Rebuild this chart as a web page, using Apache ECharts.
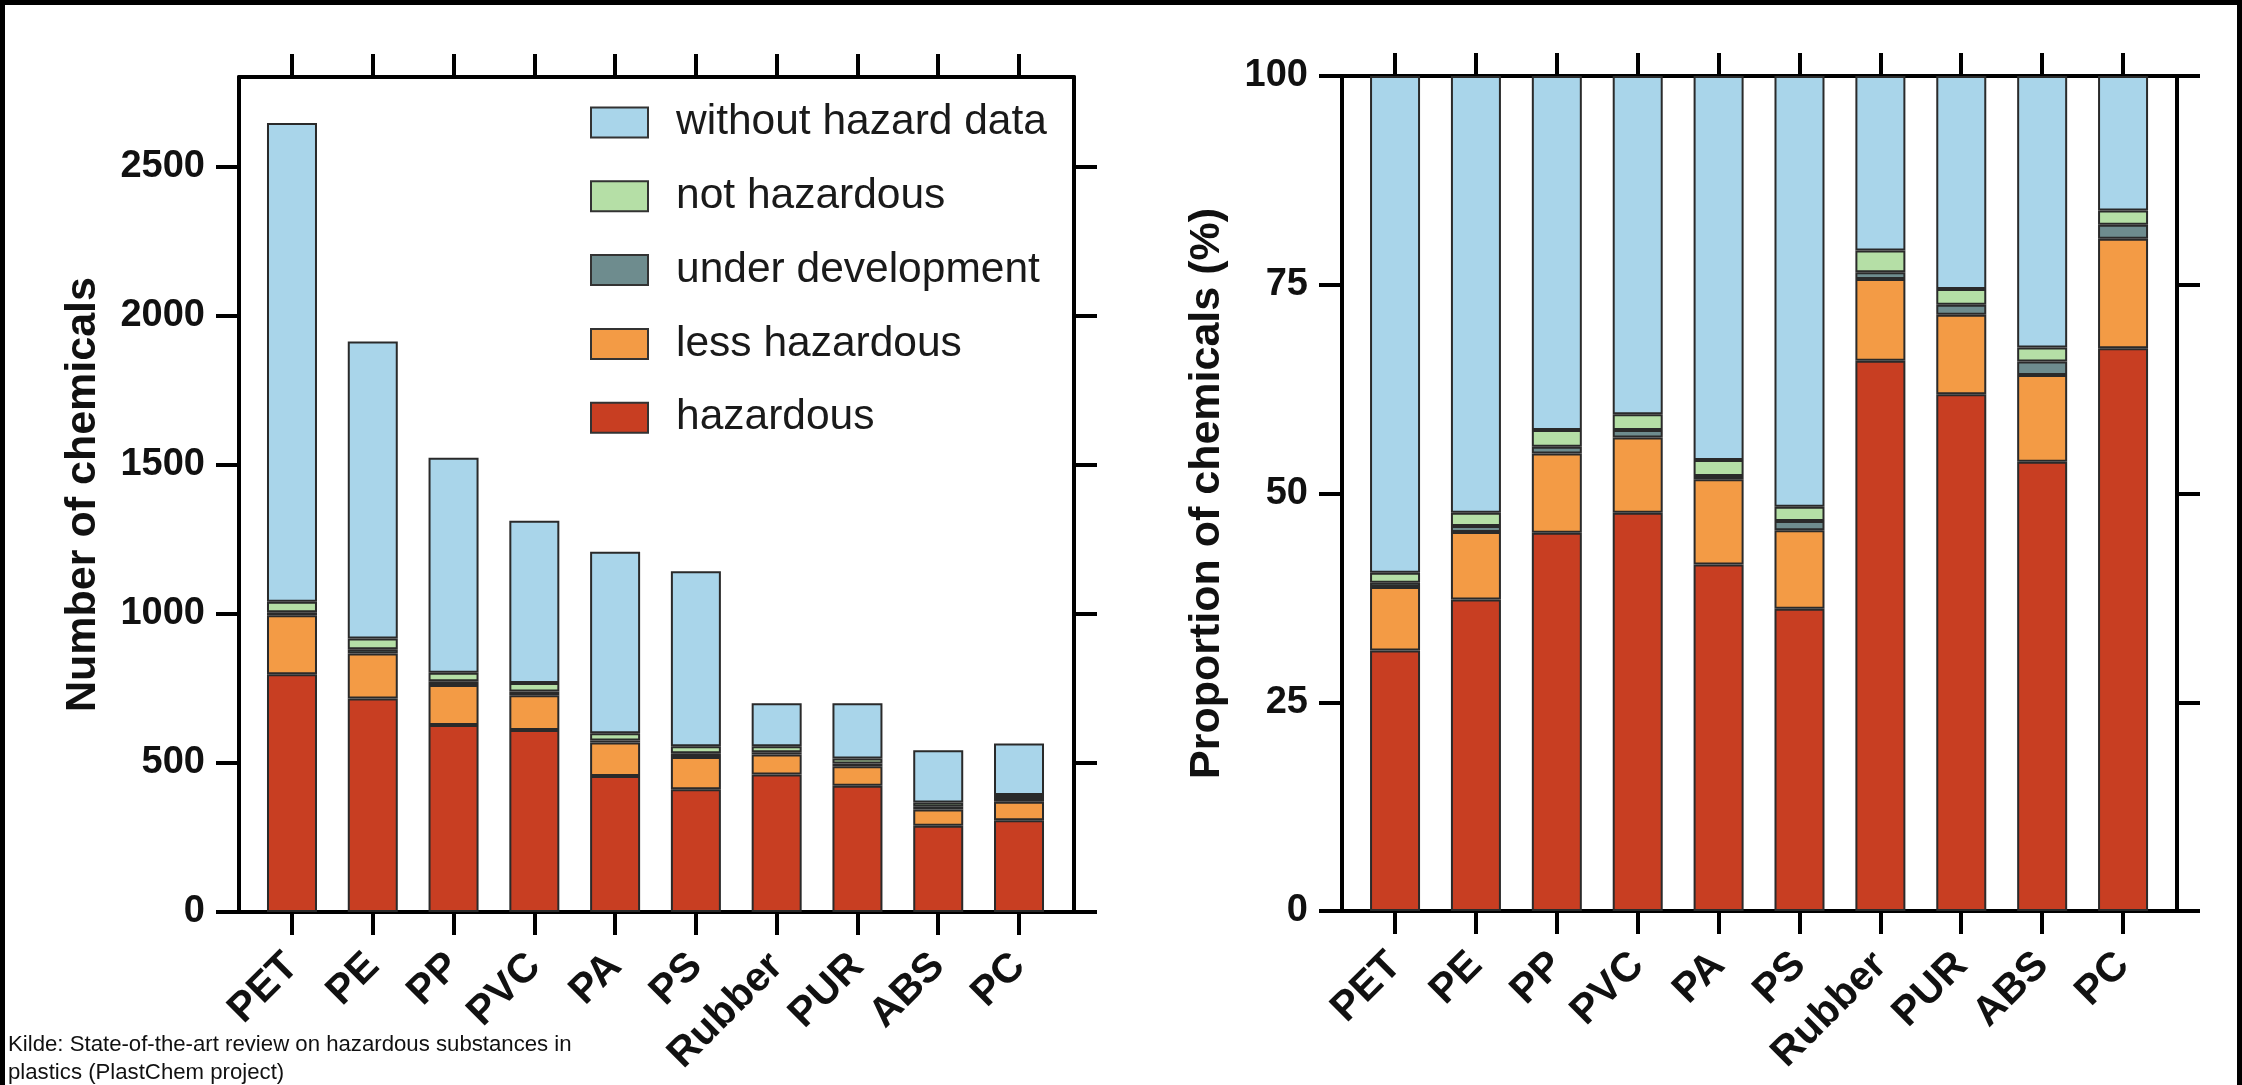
<!DOCTYPE html>
<html><head><meta charset="utf-8">
<script src="https://cdn.jsdelivr.net/npm/echarts@6/dist/echarts.min.js"></script>
<style>
html,body{margin:0;padding:0;background:#fff;}
#c{position:absolute;left:0;top:0;width:2242px;height:1085px;}
#frame{position:absolute;left:0;top:0;width:2242px;height:1085px;box-sizing:border-box;border:5px solid #000;border-bottom:0;pointer-events:none;}
</style></head><body>
<div id="c"></div><div id="frame"></div>
<script>
const categories = ['PET','PE','PP','PVC','PA','PS','Rubber','PUR','ABS','PC'];
const legendOrder = ['without hazard data','not hazardous','under development','less hazardous','hazardous'];

// Left panel: number of chemicals
const countHazardous        = [797, 716, 627, 610, 456, 412, 461, 423, 289, 308];
const countLessHazardous    = [198, 151, 134, 117, 112, 108,  67,  66,  55,  62];
const countUnderDevelopment = [ 10,  14,  13,  12,   7,  12,   8,   9,   9,  12];
const countNotHazardous     = [ 35,  36,  28,  29,  24,  24,  20,  17,  14,  10];
const countWithoutData      = [1606, 996, 721, 544, 609, 587, 144, 185, 175, 173];
const countTicks = [0, 500, 1000, 1500, 2000, 2500];

// Right panel: proportion of chemicals (%)
const pctHazardous        = [31.2, 37.3, 45.3, 47.7, 41.5, 36.2, 65.9, 61.9, 53.8, 67.4];
const pctLessHazardous    = [ 7.6,  8.1,  9.5,  9.0, 10.2,  9.4,  9.8,  9.5, 10.4, 13.1];
const pctUnderDevelopment = [ 0.5,  0.7,  0.8,  0.9,  0.4,  1.1,  0.8,  1.2,  1.6,  1.7];
const pctNotHazardous     = [ 1.2,  1.6,  2.0,  1.9,  1.9,  1.7,  2.6,  1.9,  1.7,  1.7];
const pctWithoutData      = [59.5, 52.3, 42.4, 40.5, 46.0, 51.6, 20.9, 25.5, 32.5, 16.1];
const pctTicks = [0, 25, 50, 75, 100];

const colors = {
  'hazardous': '#C83E22',
  'less hazardous': '#F39B45',
  'under development': '#6E8C8E',
  'not hazardous': '#B5DFA6',
  'without hazard data': '#A9D5EA'
};

const FONT = 'Liberation Sans, Arial, Helvetica, sans-serif';
const catIdx = categories.map((c, i) => i);

function mk(name, arr, stack, axisIdx) {
  return {
    name: name, type: 'bar', stack: stack,
    xAxisIndex: axisIdx, yAxisIndex: axisIdx,
    barWidth: 50,
    itemStyle: { color: colors[name], borderColor: '#2a2a2a', borderWidth: 2 },
    data: arr
  };
}
function panelSeries(stack, axisIdx, arrs) {
  return [
    mk('hazardous', arrs[0], stack, axisIdx),
    mk('less hazardous', arrs[1], stack, axisIdx),
    mk('under development', arrs[2], stack, axisIdx),
    mk('not hazardous', arrs[3], stack, axisIdx),
    mk('without hazard data', arrs[4], stack, axisIdx)
  ];
}

const axisLine = { show: true, onZero: false, lineStyle: { color: '#000', width: 4 } };
function frameX(grid, pos, min, max, labels) {
  return {
    type: 'value', gridIndex: grid, position: pos, min: min, max: max,
    axisLine: axisLine,
    axisTick: { show: true, customValues: catIdx, length: 23, inside: false, lineStyle: { color: '#000', width: 4 } },
    axisLabel: labels ? {
      show: true, customValues: catIdx, rotate: 45, margin: 48,
      formatter: v => categories[Math.round(v)],
      fontSize: 41, fontWeight: 'bold', color: '#111', fontFamily: FONT
    } : { show: false },
    splitLine: { show: false }
  };
}
function frameY(grid, pos, max, ticks, labels, name, gap) {
  const o = {
    type: 'value', gridIndex: grid, position: pos, min: 0, max: max,
    axisLine: axisLine,
    axisTick: { show: true, customValues: ticks, length: 23, inside: false, lineStyle: { color: '#000', width: 4 } },
    axisLabel: labels ? {
      show: true, customValues: ticks, margin: 34, formatter: v => String(v),
      fontSize: 38, fontWeight: 'bold', color: '#111', fontFamily: FONT
    } : { show: false },
    splitLine: { show: false }
  };
  if (name) {
    o.name = name; o.nameLocation = 'middle'; o.nameGap = gap;
    o.nameTextStyle = { fontSize: 43, fontWeight: 'bold', color: '#111', fontFamily: FONT };
  }
  return o;
}
function barX(grid) {
  return { type: 'category', gridIndex: grid, data: categories, boundaryGap: true, show: false };
}
function barY(grid, max) {
  return { type: 'value', gridIndex: grid, min: 0, max: max, show: false, splitLine: { show: false } };
}

const chart = echarts.init(document.getElementById('c'), null, { renderer: 'canvas' });
chart.setOption({
  animation: false,
  backgroundColor: '#fff',
  textStyle: { fontFamily: FONT },
  grid: [
    { left: 251.6, top: 77, width: 807.8, height: 835 },   // bars, left panel
    { left: 1354.6, top: 76, width: 808.9, height: 835 },  // bars, right panel
    { left: 239, top: 77, width: 835, height: 835 },       // frame, left panel
    { left: 1342, top: 76, width: 835, height: 835 }       // frame, right panel
  ],
  xAxis: [
    barX(0), barX(1),
    frameX(2, 'bottom', -0.656, 9.681, true),
    frameX(2, 'top', -0.656, 9.681, false),
    frameX(3, 'bottom', -0.655, 9.668, true),
    frameX(3, 'top', -0.655, 9.668, false)
  ],
  yAxis: [
    barY(0, 2800), barY(1, 100),
    frameY(2, 'left', 2800, countTicks, true, 'Number of chemicals', 134),
    frameY(2, 'right', 2800, countTicks, false),
    frameY(3, 'left', 100, pctTicks, true, 'Proportion of chemicals (%)', 113),
    frameY(3, 'right', 100, pctTicks, false)
  ],
  legend: {
    data: legendOrder, orient: 'vertical', left: 585, top: 96,
    icon: 'rect', itemWidth: 57, itemHeight: 30, itemGap: 30.8,
    itemStyle: { borderColor: '#333', borderWidth: 2 },
    textStyle: { fontSize: 42.5, color: '#1a1a1a', fontFamily: FONT, padding: [0, 0, 0, 23] },
    selectedMode: false
  },
  graphic: [{
    type: 'text', left: 8, top: 1031,
    style: {
      text: 'Kilde: State-of-the-art review on hazardous substances in\nplastics (PlastChem project)',
      fontSize: 22.2, lineHeight: 28, fill: '#111', fontFamily: FONT
    }
  }],
  series: [].concat(
    panelSeries('L', 0, [countHazardous, countLessHazardous, countUnderDevelopment, countNotHazardous, countWithoutData]),
    panelSeries('R', 1, [pctHazardous, pctLessHazardous, pctUnderDevelopment, pctNotHazardous, pctWithoutData])
  )
});
</script>
</body></html>
